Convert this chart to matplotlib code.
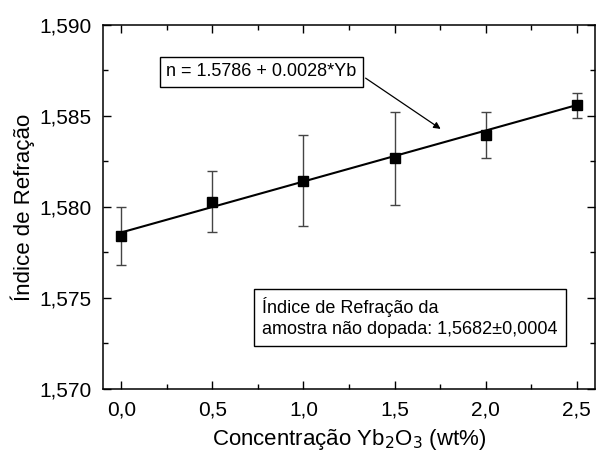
import matplotlib.pyplot as plt
import numpy as np
from matplotlib.ticker import MultipleLocator, FuncFormatter

plt.rcParams['font.family'] = ['Liberation Sans', 'DejaVu Sans']

conc = [0.0, 0.5, 1.0, 1.5, 2.0, 2.5]
n_idx = [1.5784, 1.5803, 1.58145, 1.58267, 1.58397, 1.58559]
n_err = [0.0016, 0.0017, 0.0025, 0.00255, 0.00127, 0.0007]
fit_a = 1.5786
fit_b = 0.0028

fig = plt.figure(figsize=(5.96, 4.57), dpi=100)
ax = fig.add_axes([0.1728, 0.1488, 0.8255, 0.7965])

xf = np.array([conc[0], conc[-1]])
ax.plot(xf, fit_a + fit_b * xf, color='black', lw=1.5, zorder=2)
ax.errorbar(conc, n_idx, yerr=n_err, fmt='none', ecolor='#444444',
            elinewidth=1.0, capsize=3.5, capthick=1.0, zorder=1)
ax.plot(conc, n_idx, 's', color='black', ms=6.5, zorder=3)

ax.set_xlim(-0.1, 2.6)
ax.set_ylim(1.570, 1.590)
ax.xaxis.set_major_locator(MultipleLocator(0.5))
ax.xaxis.set_minor_locator(MultipleLocator(0.25))
ax.yaxis.set_major_locator(MultipleLocator(0.005))
ax.yaxis.set_minor_locator(MultipleLocator(0.0025))
ax.xaxis.set_major_formatter(FuncFormatter(lambda v, p: f'{v:.1f}'.replace('.', ',')))
ax.yaxis.set_major_formatter(FuncFormatter(lambda v, p: f'{v:.3f}'.replace('.', ',')))
ax.tick_params(which='both', direction='in', top=True, right=True, labelsize=15, width=1.0)
ax.tick_params(which='major', length=6, pad=8)
ax.tick_params(which='minor', length=3.5)
for s in ax.spines.values():
    s.set_linewidth(1.1)

ax.set_xlabel('Concentração Yb$_2$O$_3$ (wt%)', fontsize=16, labelpad=6)
ax.set_ylabel('Índice de Refração', fontsize=16, labelpad=3)

# caixa da equacao e seta ate a reta
ax.annotate('n = 1.5786 + 0.0028*Yb', xy=(1.753, 1.58429), xytext=(0.769, 1.58742),
            fontsize=13, ha='center', va='center',
            bbox=dict(boxstyle='square,pad=0.35', fc='white', ec='black', lw=1.0),
            arrowprops=dict(arrowstyle='-|>', color='black', lw=0.9, relpos=(1.0, 0.5),
                            mutation_scale=10, shrinkA=2, shrinkB=0))

ax.text(0.775, 1.57393, 'Índice de Refração da\namostra não dopada: 1,5682±0,0004',
        fontsize=13, ha='left', va='center', linespacing=1.3,
        bbox=dict(boxstyle='square,pad=0.45', fc='white', ec='black', lw=1.0))

fig.savefig('out.png', dpi=100)
